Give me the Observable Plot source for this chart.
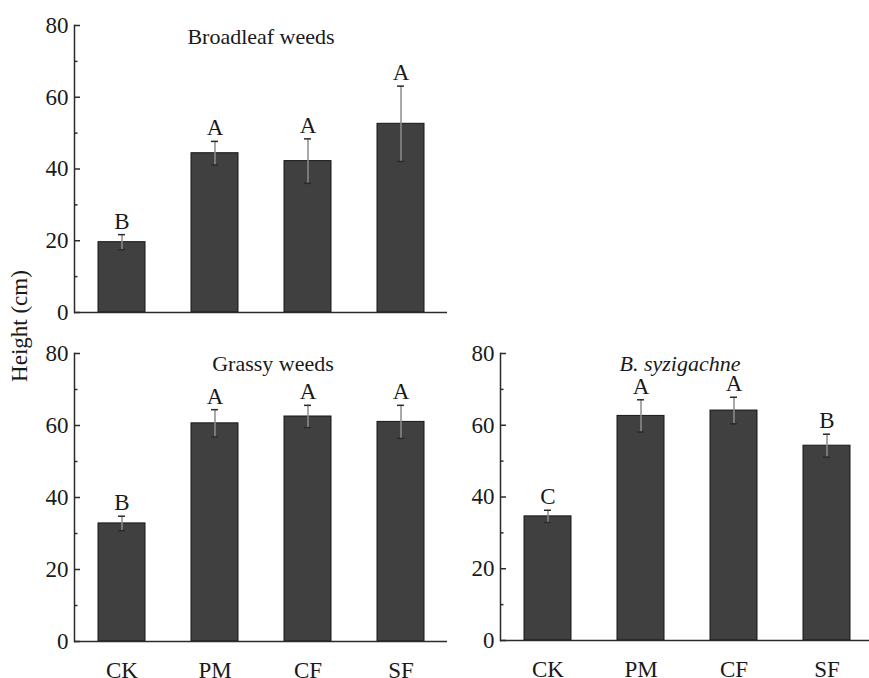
<!DOCTYPE html>
<html>
<head>
<meta charset="utf-8">
<script src="https://cdn.jsdelivr.net/npm/d3@7"></script>
<script src="https://cdn.jsdelivr.net/npm/@observablehq/plot@0.6"></script>
<style>
  html, body { margin: 0; padding: 0; background: #fff; overflow: hidden; }
  #fig { position: relative; width: 869px; height: 678px; overflow: hidden; background: #fff;
         font-family: "Liberation Serif", "Times New Roman", serif; color: #1a1a1a; }
  .panel { position: absolute; }
  .panel, .panel text, .panel g { font-family: "Liberation Serif", "Times New Roman", serif !important; }
  #ylabel { position: absolute; left: 20px; top: 326px; transform: translate(-50%, -50%) rotate(-90deg);
            font-size: 23px; white-space: nowrap; }
</style>
</head>
<body>
<div id="fig">
  <div id="ylabel">Height (cm)</div>
</div>
<script>
// Treatments on the x axis
const treatments = ["CK", "PM", "CF", "SF"];

// Broadleaf weeds: mean height (cm), error, significance letters
const broadleafMean = [19.6, 44.4, 42.2, 52.6];
const broadleafErr = [2.1, 3.3, 6.2, 10.5];
const broadleafLetters = ["B", "A", "A", "A"];

// Grassy weeds
const grassyMean = [32.8, 60.6, 62.5, 61.0];
const grassyErr = [2.0, 3.8, 3.1, 4.6];
const grassyLetters = ["B", "A", "A", "A"];

// B. syzigachne
const syzMean = [34.6, 62.6, 64.1, 54.3];
const syzErr = [1.7, 4.5, 3.7, 3.2];
const syzLetters = ["C", "A", "A", "B"];

// Y axis ticks
const majorTicks = [0, 20, 40, 60, 80];
const minorTicks = [10, 30, 50, 70];

const FONT = '"Liberation Serif", "Times New Roman", serif';
const INK = "#2b2b2b";

function panel({mean, err, letters, title, italic = false, titleDx = 0, titleDy = 2, showX,
                left, top, width, height, marginLeft, marginRight, marginTop, marginBottom}) {
  const rows = treatments.map((t, i) => ({
    t, mean: mean[i], lo: mean[i] - err[i], hi: mean[i] + err[i], letter: letters[i]
  }));
  const marks = [
    Plot.barY(rows, {x: "t", y: "mean", fill: "#404040", stroke: "#161616", strokeWidth: 1}),
    Plot.ruleX(rows, {x: "t", y1: "lo", y2: "hi", stroke: "#8c8c8c", strokeWidth: 1.5}),
    Plot.tickY(rows, {x: "t", y: "lo", stroke: INK, strokeWidth: 1.5, inset: 20}),
    Plot.tickY(rows, {x: "t", y: "hi", stroke: INK, strokeWidth: 1.5, inset: 20}),
    Plot.text(rows, {x: "t", y: "hi", text: "letter", lineAnchor: "bottom", dy: -6,
                     fontSize: 23, fontFamily: FONT, fill: "#1a1a1a"}),
    Plot.text([title], {frameAnchor: "top", lineAnchor: "top", dy: titleDy, dx: titleDx, fontSize: 22,
                        fontFamily: FONT, fontStyle: italic ? "italic" : "normal", fill: "#1a1a1a"}),
    Plot.frame({anchor: "left", stroke: INK, strokeWidth: 1.5}),
    Plot.ruleY([0], {stroke: INK, strokeWidth: 1.5}),
    Plot.axisY({ticks: majorTicks, tickSize: 0, tickPadding: 6, fontSize: 23, fontFamily: FONT, tickFormat: d => d}),
    Plot.axisY({ticks: majorTicks, tickSize: -6, text: null, stroke: INK, strokeWidth: 1.5}),
    Plot.axisY({ticks: minorTicks, tickSize: -3.5, text: null, stroke: INK, strokeWidth: 1.5})
  ];
  if (showX) marks.push(Plot.axisX({tickSize: 0, tickPadding: 20, fontSize: 23, fontFamily: FONT}));
  const chart = Plot.plot({
    width, height, marginLeft, marginRight, marginTop, marginBottom,
    x: {domain: treatments, paddingInner: 0.5, paddingOuter: 0.25, axis: showX ? undefined : null, label: null},
    y: {domain: [0, 80], label: null},
    style: {fontFamily: FONT, color: "#1a1a1a", background: "transparent", overflow: "visible"},
    marks
  });
  chart.classList.add("panel");
  chart.style.left = left + "px";
  chart.style.top = top + "px";
  document.getElementById("fig").appendChild(chart);
}

panel({mean: broadleafMean, err: broadleafErr, letters: broadleafLetters, title: "Broadleaf weeds",
       titleDy: 3, showX: false, left: 0, top: 0, width: 450, height: 330,
       marginLeft: 74, marginRight: 3, marginTop: 25, marginBottom: 18});

panel({mean: grassyMean, err: grassyErr, letters: grassyLetters, title: "Grassy weeds", titleDx: 12,
       titleDy: 2, showX: true, left: 0, top: 330, width: 450, height: 348,
       marginLeft: 74, marginRight: 3, marginTop: 23, marginBottom: 37});

panel({mean: syzMean, err: syzErr, letters: syzLetters, title: "B. syzigachne", italic: true, titleDx: -7,
       titleDy: 2, showX: true, left: 440, top: 330, width: 436, height: 348,
       marginLeft: 60, marginRight: 3, marginTop: 23, marginBottom: 38});
</script>
</body>
</html>
